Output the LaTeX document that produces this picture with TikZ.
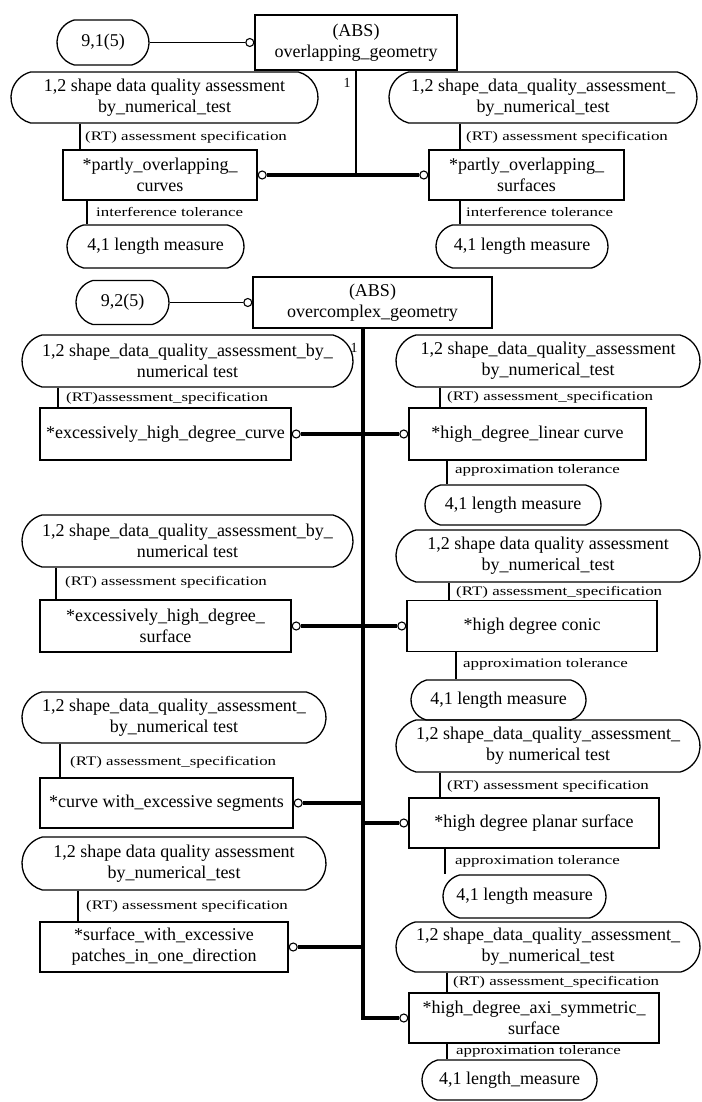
\documentclass[tikz,border=0pt]{standalone}
\usepackage{fontspec}
\setmainfont{Liberation Serif}
\newfontfamily\lblfont[FakeStretch=1.3]{Liberation Serif}
\usetikzlibrary{shapes.misc}
\begin{document}
\begin{tikzpicture}[x=1pt,y=-1pt,
  ent/.style={draw, line width=1.3pt, rectangle, inner sep=0pt, align=center, font=\fontsize{18}{21}\selectfont},
  rnd/.style={draw, line width=1.3pt, rounded rectangle, rounded rectangle arc length=150, inner sep=0pt, align=center, font=\fontsize{18}{21}\selectfont},
  lbl/.style={anchor=west, inner sep=0pt, font=\lblfont\fontsize{13}{15}\selectfont},
  oc/.style={circle, draw, fill=white, line width=1.1pt, minimum size=8pt, inner sep=0pt},
  thk/.style={line width=4pt},
  thn/.style={line width=1.2pt},
  rel/.style={line width=1.8pt}]
\fill[white] (0,0) rectangle (701,1102);
\useasboundingbox (0,0) rectangle (701,1102);

% ---------------- top section ----------------
\node[rnd, minimum width=92pt, minimum height=45pt] (p91) at (103,42.5) {9,1(5)};
\node[ent, minimum width=202pt, minimum height=55pt] (abs1) at (356,42.5) {(ABS)\\overlapping\_geometry};
\node[oc, anchor=east] (c0) at (abs1.west) {};
\draw[rel] (p91.east) -- (c0.west);
\node[font=\fontsize{14}{16}\selectfont, inner sep=0pt] (one1) at (347,83) {1};

\node[rnd, minimum width=307pt, minimum height=51pt] (tL) at (164.5,97.5) {1,2 shape data quality assessment\\by\_numerical\_test};
\node[rnd, minimum width=308pt, minimum height=51pt] (tR) at (543,97.5) {1,2 shape\_data\_quality\_assessment\_\\by\_numerical\_test};
\node[ent, minimum width=194pt, minimum height=50pt] (eTL) at (160,175) {*partly\_overlapping\_\\curves};
\node[ent, minimum width=195pt, minimum height=50pt] (eTR) at (526.5,175) {*partly\_overlapping\_\\surfaces};
\node[oc, anchor=west] (cTL) at (eTL.east) {};
\node[oc, anchor=east] (cTR) at (eTR.west) {};
\coordinate (j1) at (356,175);
\draw[line width=2.6pt] (abs1.south) -- (j1);
\draw[thk] (cTL.east) -- (cTR.west);
\node[rnd, minimum width=177pt, minimum height=43pt] (mTL) at (155.5,246.5) {4,1 length measure};
\node[rnd, minimum width=172pt, minimum height=43pt] (mTR) at (522,246.5) {4,1 length measure};

\coordinate (xa) at (80,0);
\coordinate (xb) at (460,0);
\coordinate (xc) at (87,0);
\draw[thn] (tL.south -| xa) -- (eTL.north -| xa);
\draw[thn] (tR.south -| xb) -- (eTR.north -| xb);
\draw[thn] (eTL.south -| xc) -- (mTL.north -| xc);
\draw[thn] (eTR.south -| xb) -- (mTR.north -| xb);
\node[lbl] at (85,137) {(RT) assessment specification};
\node[lbl] at (466,137) {(RT) assessment specification};
\node[lbl] at (96,212) {interference tolerance};
\node[lbl] at (466,212) {interference tolerance};

% ---------------- second section ----------------
\node[rnd, minimum width=93pt, minimum height=44pt] (p92) at (122.5,302.5) {9,2(5)};
\node[ent, minimum width=239pt, minimum height=51pt] (abs2) at (372.5,302.5) {(ABS)\\overcomplex\_geometry};
\node[oc, anchor=east] (c02) at (abs2.west) {};
\draw[rel] (p92.east) -- (c02.west);
\node[font=\fontsize{14}{16}\selectfont, inner sep=0pt] (one2) at (354,348) {1};

% left column
\node[rnd, minimum width=331pt, minimum height=52pt] (L1) at (187.5,361) {1,2 shape\_data\_quality\_assessment\_by\_\\numerical test};
\node[ent, minimum width=251pt, minimum height=52pt] (E1) at (165.5,434) {*excessively\_high\_degree\_curve};
\node[rnd, minimum width=331pt, minimum height=52pt] (L2) at (187.5,541) {1,2 shape\_data\_quality\_assessment\_by\_\\numerical test};
\node[ent, minimum width=251pt, minimum height=52pt] (E2) at (165.5,626) {*excessively\_high\_degree\_\\surface};
\node[rnd, minimum width=304pt, minimum height=51pt] (L3) at (174,717.5) {1,2 shape\_data\_quality\_assessment\_\\by\_numerical test};
\node[ent, minimum width=253pt, minimum height=50pt] (E3) at (166.5,803) {*curve with\_excessive segments};
\node[rnd, minimum width=304pt, minimum height=53pt] (L4) at (174,863.5) {1,2 shape data quality assessment\\by\_numerical\_test};
\node[ent, minimum width=248pt, minimum height=50pt] (E4) at (164,947) {*surface\_with\_excessive\\patches\_in\_one\_direction};

% right column
\node[rnd, minimum width=304pt, minimum height=52pt] (R1) at (548,361) {1,2 shape\_data\_quality\_assessment\\by\_numerical\_test};
\node[ent, minimum width=237pt, minimum height=52pt] (F1) at (527.5,434) {*high\_degree\_linear curve};
\node[rnd, minimum width=176pt, minimum height=40pt] (M1) at (513,505) {4,1 length measure};
\node[rnd, minimum width=304pt, minimum height=52pt] (R2) at (548,556) {1,2 shape data quality assessment\\by\_numerical\_test};
\node[ent, minimum width=250pt, minimum height=51pt] (F2) at (532,626) {*high degree conic};
\node[rnd, minimum width=175pt, minimum height=40pt] (M2) at (498.5,700) {4,1 length measure};
\node[rnd, minimum width=304pt, minimum height=52pt] (R3) at (548,746) {1,2 shape\_data\_quality\_assessment\_\\by numerical test};
\node[ent, minimum width=250pt, minimum height=50pt] (F3) at (534,823) {*high degree planar surface};
\node[rnd, minimum width=163pt, minimum height=43pt] (M3) at (524.5,896.5) {4,1 length measure};
\node[rnd, minimum width=304pt, minimum height=50pt] (R4) at (548,947) {1,2 shape\_data\_quality\_assessment\_\\by\_numerical\_test};
\node[ent, minimum width=250pt, minimum height=50pt] (F4) at (534,1018) {*high\_degree\_axi\_symmetric\_\\surface};
\node[rnd, minimum width=175pt, minimum height=40pt] (M4) at (509.5,1080) {4,1 length\_measure};

% circles
\node[oc, anchor=west] (cE1) at (E1.east) {};
\node[oc, anchor=west] (cE2) at (E2.east) {};
\node[oc, anchor=west] (cE3) at (E3.east) {};
\node[oc, anchor=west] (cE4) at (E4.east) {};
\node[oc, anchor=east] (cF1) at (F1.west) {};
\node[oc, anchor=east] (cF2) at (F2.west) {};
\node[oc, anchor=east] (cF3) at (F3.west) {};
\node[oc, anchor=east] (cF4) at (F4.west) {};

% spine
\coordinate (sx) at (363,0);
\coordinate (sEnd) at (363,1018);
\draw[thk] (abs2.south -| sx) -- (sEnd) -- (cF4.west);
\draw[thk] (cE1.east) -- (cF1.west);
\draw[thk] (cE2.east) -- (cF2.west);
\draw[thk] (cE3.east) -- (cE3.east -| sx);
\draw[thk] (cE4.east) -- (cE4.east -| sx);
\draw[thk] (cF3.west -| sx) -- (cF3.west);

% thin attribute lines
\coordinate (x1) at (58,0);
\coordinate (x2) at (56,0);
\coordinate (x3) at (60,0);
\coordinate (x4) at (78,0);
\draw[thn] (L1.south -| x1) -- (E1.north -| x1);
\draw[thn] (L2.south -| x2) -- (E2.north -| x2);
\draw[thn] (L3.south -| x3) -- (E3.north -| x3);
\draw[thn] (L4.south -| x4) -- (E4.north -| x4);
\node[lbl] at (66,398) {(RT)assessment\_specification};
\node[lbl] at (65,582) {(RT) assessment specification};
\node[lbl] at (70,762) {(RT) assessment\_specification};
\node[lbl] at (86,906) {(RT) assessment specification};

\coordinate (y1) at (440,0);
\coordinate (y1b) at (447,0);
\coordinate (y2) at (449,0);
\coordinate (y2b) at (456,0);
\coordinate (y3) at (440,0);
\coordinate (y3b) at (445,0);
\coordinate (y4) at (447,0);
\draw[thn] (R1.south -| y1) -- (F1.north -| y1);
\draw[thn] (F1.south -| y1b) -- (M1.north -| y1b);
\draw[thn] (R2.south -| y2) -- (F2.north -| y2);
\draw[thn] (F2.south -| y2b) -- (M2.north -| y2b);
\draw[thn] (R3.south -| y3) -- (F3.north -| y3);
\draw[thn] (F3.south -| y3b) -- (M3.north -| y3b);
\draw[thn] (R4.south -| y4) -- (F4.north -| y4);
\draw[thn] (F4.south -| y4) -- (M4.north -| y4);
\node[lbl] at (447,397) {(RT) assessment\_specification};
\node[lbl] at (455,470) {approximation tolerance};
\node[lbl] at (456,592) {(RT) assessment\_specification};
\node[lbl] at (463,664) {approximation tolerance};
\node[lbl] at (447,786) {(RT) assessment specification};
\node[lbl] at (455,861) {approximation tolerance};
\node[lbl] at (453,982) {(RT) assessment\_specification};
\node[lbl] at (456,1051) {approximation tolerance};
\end{tikzpicture}
\end{document}
